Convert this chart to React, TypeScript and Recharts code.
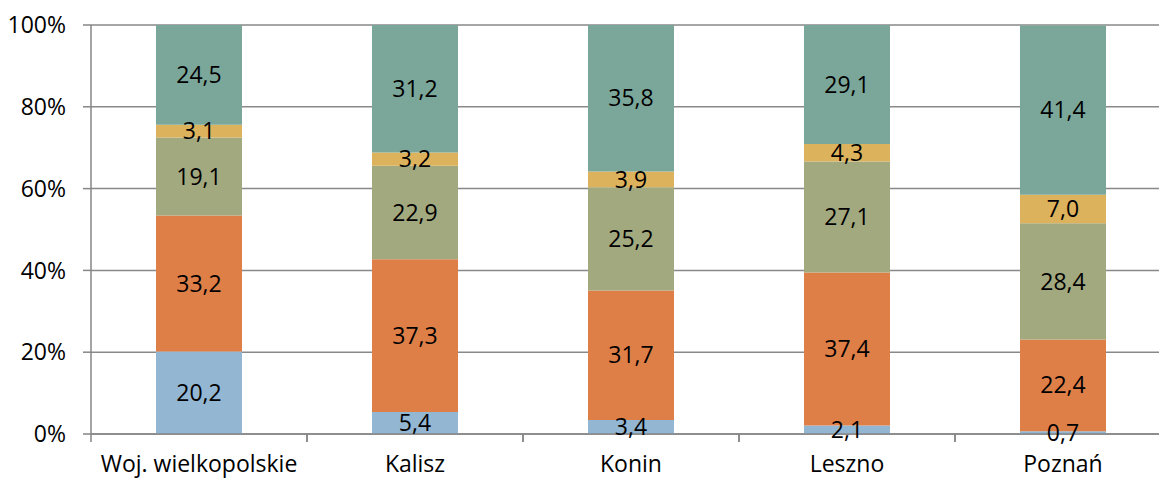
import { BarChart, Bar, XAxis, YAxis, CartesianGrid, LabelList } from 'recharts';

const regions = ['Woj. wielkopolskie', 'Kalisz', 'Konin', 'Leszno', 'Poznań'];
const blue = [20.2, 5.4, 3.4, 2.1, 0.7];
const orange = [33.2, 37.3, 31.7, 37.4, 22.4];
const olive = [19.1, 22.9, 25.2, 27.1, 28.4];
const yellow = [3.1, 3.2, 3.9, 4.3, 7.0];
const teal = [24.5, 31.2, 35.8, 29.1, 41.4];
const yTicks = [0, 20, 40, 60, 80, 100];

const data = regions.map((name, i) => ({
    name,
    s1: blue[i],
    s2: orange[i],
    s3: olive[i],
    s4: yellow[i],
    s5: teal[i],
}));

const series = [
    { key: 's1', color: '#93B6D3' },
    { key: 's2', color: '#DF7F48' },
    { key: 's3', color: '#A3A97F' },
    { key: 's4', color: '#DDB25C' },
    { key: 's5', color: '#7BA79A' },
];

const font = '"Open Sans", sans-serif';
const fmt = (v: any) => Number(v).toFixed(1).replace('.', ',');

// label under each category plus the boundary tick marks around it
const CategoryTick = (props: any) => {
    const { x, y, payload } = props;
    return (
        <g>
            <line x1={x - 108} x2={x - 108} y1={y - 8} y2={y} stroke="#868686" strokeWidth={1.5} />
            <line x1={x + 108} x2={x + 108} y1={y - 8} y2={y} stroke="#868686" strokeWidth={1.5} />
            <text x={x} y={y + 30} textAnchor="middle" fontSize={23} fill="#000" fontFamily={font}>
                {payload.value}
            </text>
        </g>
    );
};

export default function App() {
    return (
        <div style={{ position: 'absolute', left: 0, top: 0, width: 1159, height: 480, overflow: 'hidden', background: '#fff' }}>
            <BarChart
                width={1180}
                height={480}
                data={data}
                margin={{ top: 25, right: 9, left: 0, bottom: 0 }}
                barCategoryGap={0}
            >
                <CartesianGrid vertical={false} stroke="#898989" strokeWidth={1.5} />
                <XAxis
                    dataKey="name"
                    height={46}
                    axisLine={{ stroke: '#868686', strokeWidth: 1.5 }}
                    tickLine={false}
                    tick={<CategoryTick />}
                    interval={0}
                />
                <YAxis
                    width={91}
                    domain={[0, 100]}
                    ticks={yTicks}
                    allowDataOverflow
                    tickFormatter={(v) => `${v}%`}
                    axisLine={{ stroke: '#868686', strokeWidth: 1.5 }}
                    tickLine={{ stroke: '#868686', strokeWidth: 1.5 }}
                    tickSize={8}
                    tickMargin={17}
                    tick={{ fill: '#000', fontSize: 23, fontFamily: font }}
                />
                {series.map((s) => (
                    <Bar key={s.key} dataKey={s.key} stackId="a" fill={s.color} barSize={86} isAnimationActive={false}>
                        <LabelList
                            dataKey={s.key}
                            position="center"
                            formatter={fmt}
                            fill="#000"
                            fontSize={23}
                            fontFamily={font}
                        />
                    </Bar>
                ))}
            </BarChart>
        </div>
    );
}
